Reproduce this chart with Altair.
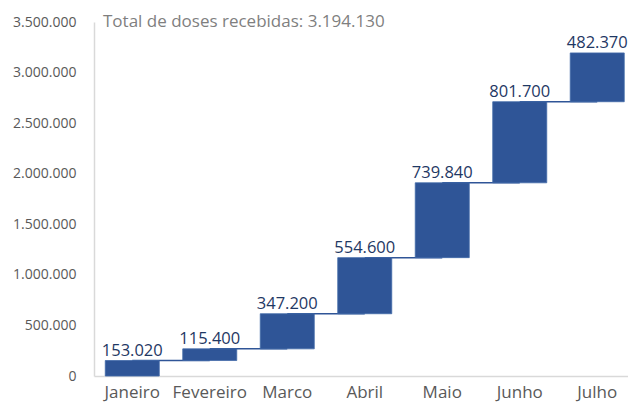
import altair as alt
import pandas as pd

months = ["Janeiro", "Fevereiro", "Marco", "Abril", "Maio", "Junho", "Julho"]
doses = [153020, 115400, 347200, 554600, 739840, 801700, 482370]

ends = []
acc = 0
for d in doses:
    acc += d
    ends.append(acc)
starts = [e - d for e, d in zip(ends, doses)]
nexts = months[1:] + [None]

df = pd.DataFrame({"month": months, "doses": doses, "start": starts, "end": ends, "next": nexts})
total = ends[-1]
title_txt = "Total de doses recebidas: " + f"{total:,}".replace(",", ".")

FONT = "Open Sans"
BLUE = "#2F5597"

xscale = alt.Scale(domain=months, paddingInner=0.303, paddingOuter=0.0968, align=0.75)
yscale = alt.Scale(domain=[0, 3500000], nice=False)

xaxis = alt.Axis(title=None, labelAngle=0, ticks=False, domainColor="#D9D9D9", domainWidth=1.5,
                 labelFont=FONT, labelFontSize=17, labelColor="#595959", labelPadding=8, grid=False)
yaxis = alt.Axis(title=None, ticks=False, domainColor="#D9D9D9", domainWidth=1.5, grid=False,
                 values=[0, 500000, 1000000, 1500000, 2000000, 2500000, 3000000, 3500000],
                 labelFont=FONT, labelFontSize=14, labelColor="#595959", labelPadding=18,
                 labelExpr="replace(format(datum.value, ','), /,/g, '.')")

base = alt.Chart(df)

conn = base.transform_filter("datum.next != null").mark_rule(color=BLUE, strokeWidth=1.5).encode(
    x=alt.X("month:N", scale=xscale, axis=xaxis),
    x2="next:N",
    y=alt.Y("end:Q", scale=yscale, axis=yaxis),
)

bars = base.mark_bar(color=BLUE, stroke="#4169A8", strokeWidth=0.8).encode(
    x=alt.X("month:N", scale=xscale, axis=xaxis),
    y=alt.Y("start:Q", scale=yscale, axis=yaxis),
    y2="end:Q",
)

labels = base.transform_calculate(
    lbl="replace(format(datum.doses, ','), /,/g, '.')"
).mark_text(font=FONT, fontSize=16.5, color="#1F3864", baseline="bottom", dy=-2).encode(
    x=alt.X("month:N", scale=xscale, axis=xaxis),
    y=alt.Y("end:Q", scale=yscale, axis=yaxis),
    text="lbl:N",
)

title = alt.Chart(pd.DataFrame({"t": [title_txt]})).mark_text(
    font=FONT, fontSize=17, color="#7F7F7F", align="left", baseline="middle"
).encode(x=alt.value(9), y=alt.value(0), text="t:N")

chart = alt.layer(conn, bars, labels, title).properties(
    width=534, height=354,
    autosize=alt.AutoSizeParams(type="none"),
    padding={"left": 86, "top": 14, "right": 0, "bottom": 30},
).configure_view(stroke=None)

chart.save("out.html", embed_options={"renderer": "svg", "actions": False})
